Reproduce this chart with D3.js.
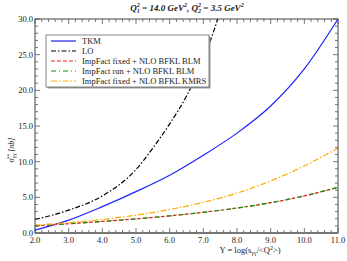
<!DOCTYPE html>
<html>
<head>
<meta charset="utf-8">
<script src="https://cdn.jsdelivr.net/npm/d3@7"></script>
<style>
  body { margin: 0; background: #fff; }
  text { font-family: "Liberation Serif", "DejaVu Serif", serif; }
</style>
</head>
<body>
<svg id="chart" width="347" height="261"></svg>
<script>
// values
var xs      = [2, 3, 4, 5, 6, 7, 8, 9, 10, 11];
var tkm     = [0.4, 1.8, 3.7, 5.8, 8.1, 10.9, 14.0, 17.8, 23.0, 30.0];
var loX     = [2, 3, 4, 5, 5.5, 6, 6.5, 7, 7.5];
var lo      = [1.9, 3.2, 5.2, 8.9, 11.9, 15.3, 19.2, 24.3, 31.0];
var fixBlm  = [1.0, 1.3, 1.62, 1.98, 2.4, 2.9, 3.5, 4.25, 5.2, 6.4];
var runBlm  = [1.0, 1.3, 1.62, 1.98, 2.4, 2.9, 3.5, 4.25, 5.2, 6.4];
var kmrs    = [1.1, 1.45, 1.9, 2.5, 3.3, 4.3, 5.6, 7.3, 9.4, 11.9];
var xTicks  = [2, 3, 4, 5, 6, 7, 8, 9, 10, 11];
var yTicks  = [0, 5, 10, 15, 20, 25, 30];
var legendNames = ["TKM", "LO", "ImpFact fixed + NLO BFKL BLM",
                   "ImpFact run + NLO BFKL BLM", "ImpFact fixed + NLO BFKL KMRS"];

var svg = d3.select("#chart");
var pL = 35, pR = 338, pT = 19, pB = 233;

var x = d3.scaleLinear().domain([2, 11]).range([pL, pR]);
var y = d3.scaleLinear().domain([0, 30]).range([pB, pT]);

svg.append("defs").append("clipPath").attr("id", "clip")
  .append("rect").attr("x", pL).attr("y", pT)
  .attr("width", pR - pL).attr("height", pB - pT);

var line = d3.line().x(d => x(d[0])).y(d => y(d[1])).curve(d3.curveMonotoneX);
var plot = svg.append("g").attr("clip-path", "url(#clip)");

var series = [
  {xs: xs,  ys: tkm,    color: "#2020ff", dash: null,           width: 1.2},
  {xs: loX, ys: lo,     color: "#000",    dash: "5,2,1.5,2",    width: 1.2},
  {xs: xs,  ys: fixBlm, color: "#ff2020", dash: "4,2",          width: 1.2},
  {xs: xs,  ys: runBlm, color: "#109010", dash: "5,3,1,3",      width: 1.2},
  {xs: xs,  ys: kmrs,   color: "#ffaa00", dash: "6,2,1.5,2",    width: 1.2}
];

series.forEach(function(s){
  plot.append("path")
    .datum(s.xs.map((v, i) => [v, s.ys[i]]))
    .attr("d", line)
    .attr("fill", "none")
    .attr("stroke", s.color)
    .attr("stroke-width", s.width)
    .attr("stroke-dasharray", s.dash);
});

// frame and ticks
var tickCol = "#555";
var g = svg.append("g").attr("stroke", tickCol).attr("stroke-width", 0.8);
d3.range(2, 11.001, 0.2).forEach(function(v){
  var major = Math.abs(v - Math.round(v)) < 1e-6;
  var l = major ? 5 : 3;
  g.append("line").attr("x1", x(v)).attr("x2", x(v)).attr("y1", pB).attr("y2", pB - l);
  g.append("line").attr("x1", x(v)).attr("x2", x(v)).attr("y1", pT).attr("y2", pT + l);
});
d3.range(0, 30.001, 1).forEach(function(v){
  var l = v % 5 == 0 ? 5 : 3;
  g.append("line").attr("y1", y(v)).attr("y2", y(v)).attr("x1", pL).attr("x2", pL + l);
  g.append("line").attr("y1", y(v)).attr("y2", y(v)).attr("x1", pR).attr("x2", pR - l);
});
svg.append("rect").attr("x", pL).attr("y", pT)
  .attr("width", pR - pL).attr("height", pB - pT)
  .attr("fill", "none").attr("stroke", "#444").attr("stroke-width", 1);
svg.append("line").attr("x1", pL).attr("x2", pR).attr("y1", pB).attr("y2", pB)
  .attr("stroke", "#777").attr("stroke-width", 1.8);

svg.selectAll(".xl").data(xTicks).enter().append("text")
  .attr("x", d => x(d)).attr("y", pB + 10)
  .attr("text-anchor", "middle").attr("font-size", "8.5px").attr("fill", "#222")
  .text(d => d.toFixed(1));
svg.selectAll(".yl").data(yTicks).enter().append("text")
  .attr("x", pL - 2).attr("y", d => y(d) + 3)
  .attr("text-anchor", "end").attr("font-size", "8.5px").attr("fill", "#222")
  .text(d => d.toFixed(1));

// title
var t = svg.append("text").attr("x", 187).attr("y", 11).attr("text-anchor", "middle")
  .attr("font-size", "9px").attr("font-style", "italic").attr("font-weight", "bold").attr("fill", "#222");
t.append("tspan").text("Q");
t.append("tspan").attr("font-size", "6px").attr("dy", 2).text("1");
t.append("tspan").attr("font-size", "6px").attr("dy", -6).attr("dx", -3).text("2");
t.append("tspan").attr("dy", 4).text(" = 14.0 GeV");
t.append("tspan").attr("font-size", "6px").attr("dy", -4).text("2");
t.append("tspan").attr("dy", 4).text(", Q");
t.append("tspan").attr("font-size", "6px").attr("dy", 2).text("2");
t.append("tspan").attr("font-size", "6px").attr("dy", -6).attr("dx", -3).text("2");
t.append("tspan").attr("dy", 4).text(" = 3.5 GeV");
t.append("tspan").attr("font-size", "6px").attr("dy", -4).text("2");

// x label
var xl = svg.append("text").attr("x", 250).attr("y", 253).attr("text-anchor", "middle")
  .attr("font-size", "8.5px").attr("fill", "#222");
xl.append("tspan").text("Y = log(s");
xl.append("tspan").attr("font-size", "6px").attr("dy", 2).text("γγ");
xl.append("tspan").attr("dy", -2).text("/<Q");
xl.append("tspan").attr("font-size", "6px").attr("dy", -3).text("2");
xl.append("tspan").attr("dy", 3).text(">)");

// y label
var yl = svg.append("text").attr("transform", "translate(14,150) rotate(-90)")
  .attr("text-anchor", "middle").attr("font-size", "8px").attr("fill", "#222");
yl.append("tspan").text("σ");
yl.append("tspan").attr("font-size", "5.5px").attr("dy", 2).text("γγ");
yl.append("tspan").attr("font-size", "5.5px").attr("dy", -5).attr("dx", -6).text("**");
yl.append("tspan").attr("dy", 3).attr("font-style", "italic").text(" [nb]");

// legend
var lg = svg.append("g").attr("transform", "translate(46,35)");
lg.append("rect").attr("x", 1.5).attr("y", 1.5).attr("width", 163).attr("height", 52).attr("fill", "#999");
lg.append("rect").attr("width", 163).attr("height", 52)
  .attr("fill", "#fff").attr("stroke", "#666").attr("stroke-width", 0.8);
legendNames.forEach(function(n, i){
  var yy = 6 + i * 10;
  lg.append("line").attr("x1", 5).attr("x2", 30).attr("y1", yy).attr("y2", yy)
    .attr("stroke", series[i].color).attr("stroke-width", 1.2)
    .attr("stroke-dasharray", series[i].dash);
  lg.append("text").attr("x", 36).attr("y", yy + 3).attr("font-size", "8.5px").attr("fill", "#222").text(n);
});
</script>
</body>
</html>
